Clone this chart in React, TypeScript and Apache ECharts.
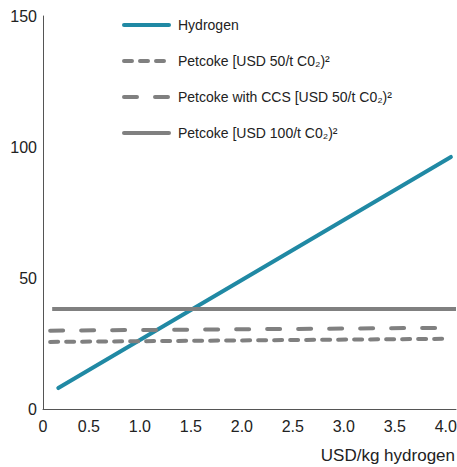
import React, { useEffect, useRef } from "react";
import * as echarts from "echarts";

const seriesNames = [
  "Hydrogen",
  "Petcoke [USD 50/t C0₂)²",
  "Petcoke with CCS [USD 50/t C0₂)²",
  "Petcoke [USD 100/t C0₂)²",
];
const hydrogenX = [0.2, 4.05];
const hydrogenY = [8, 96.2];
const petcoke50X = [0.12, 4.03];
const petcoke50Y = [25.6, 26.8];
const petcokeCcsX = [0.12, 4.06];
const petcokeCcsY = [29.9, 31.0];
const petcoke100X = [0.14, 4.1];
const petcoke100Y = [38.2, 38.2];
const yTicks = [0, 50, 100, 150];

const zip = (xs: number[], ys: number[]) => xs.map((x, i) => [x, ys[i]]);

export default function App() {
  const ref = useRef<HTMLDivElement>(null);
  useEffect(() => {
    if (!ref.current) return;
    const chart = echarts.init(ref.current, null, { renderer: "svg" });
    const font = "'Liberation Sans', Arial, sans-serif";
    const gray = "#808080";
    const xMin = 0.05;
    chart.setOption({
      animation: false,
      grid: { left: 43, right: 1, top: 16, bottom: 58, outerBoundsMode: "none" },
      legend: {
        orient: "vertical",
        left: 122,
        top: 18,
        padding: 0,
        itemWidth: 45,
        itemHeight: 14,
        itemGap: 22,
        itemStyle: { opacity: 0 },
        lineStyle: { width: 4, cap: "round" },
        textStyle: { fontSize: 14, color: "#222", fontFamily: font, padding: [0, 0, 0, 4] },
        data: seriesNames,
      },
      xAxis: {
        type: "value",
        min: xMin,
        max: 4.1,
        interval: 0.05,
        axisLine: { lineStyle: { color: "#555", width: 1 } },
        axisTick: { show: false },
        splitLine: { show: false },
        axisLabel: {
          interval: 0,
          showMinLabel: true,
          showMaxLabel: false,
          fontSize: 16,
          color: "#222",
          fontFamily: font,
          margin: 9,
          formatter: (v: number) => {
            if (Math.abs(v - xMin) < 1e-6) return "0";
            const d = v * 2;
            if (Math.abs(d - Math.round(d)) < 1e-6) return v.toFixed(1);
            return "";
          },
        },
      },
      yAxis: {
        type: "value",
        min: yTicks[0],
        max: yTicks[yTicks.length - 1],
        interval: yTicks[1] - yTicks[0],
        axisLine: { show: true, lineStyle: { color: "#555", width: 1 } },
        axisTick: { show: false },
        splitLine: { show: false },
        axisLabel: { fontSize: 16, color: "#222", fontFamily: font, margin: 6 },
      },
      graphic: [
        {
          type: "text",
          right: 2,
          top: 447,
          style: { text: "USD/kg hydrogen", fontSize: 17, fill: "#222", fontFamily: font },
        },
      ],
      series: [
        {
          name: seriesNames[0],
          type: "line",
          symbol: "none",
          data: zip(hydrogenX, hydrogenY),
          lineStyle: { color: "#2089a4", width: 4, cap: "round" },
          itemStyle: { color: "#2089a4" },
        },
        {
          name: seriesNames[1],
          type: "line",
          symbol: "none",
          data: zip(petcoke50X, petcoke50Y),
          lineStyle: { color: gray, width: 4, type: [8, 8], cap: "round" },
          itemStyle: { color: gray },
        },
        {
          name: seriesNames[2],
          type: "line",
          symbol: "none",
          data: zip(petcokeCcsX, petcokeCcsY),
          lineStyle: { color: gray, width: 4, type: [13, 18], cap: "round" },
          itemStyle: { color: gray },
        },
        {
          name: seriesNames[3],
          type: "line",
          symbol: "none",
          data: zip(petcoke100X, petcoke100Y),
          lineStyle: { color: gray, width: 4 },
          itemStyle: { color: gray },
        },
      ],
    });
    return () => chart.dispose();
  }, []);
  return <div ref={ref} style={{ width: 457, height: 467, position: "absolute", left: 0, top: 0 }} />;
}
